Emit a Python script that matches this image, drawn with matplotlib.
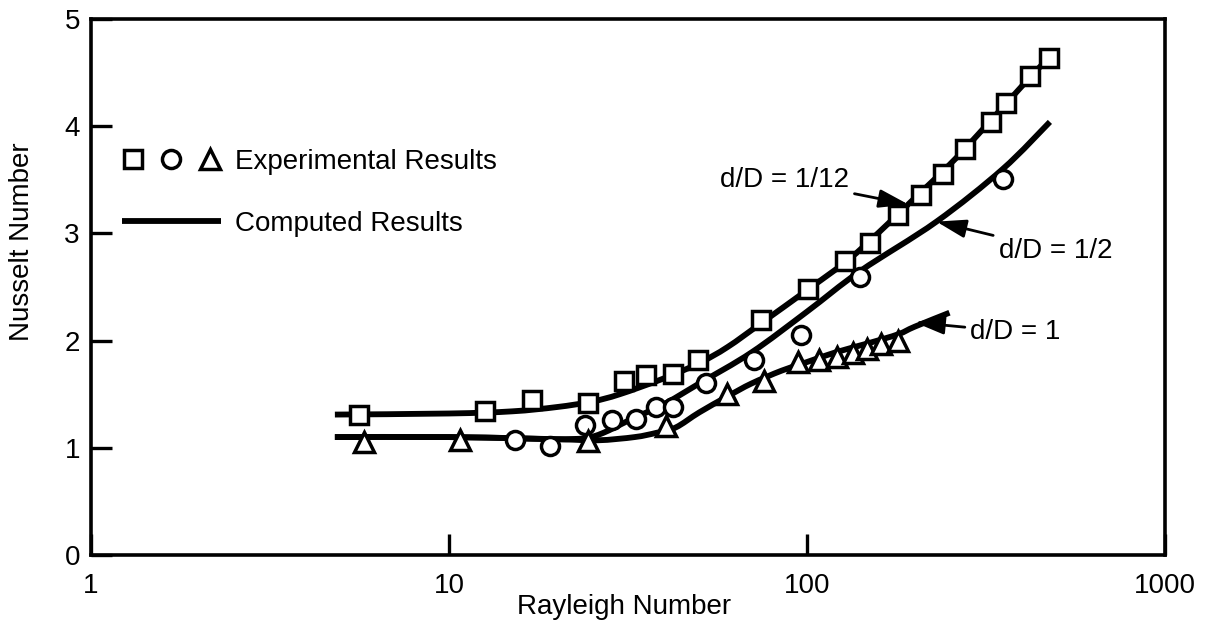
import numpy as np
import matplotlib
matplotlib.use("Agg")
import matplotlib.pyplot as plt
from matplotlib.legend_handler import HandlerTuple
from matplotlib.path import Path
from matplotlib.patches import PathPatch

plt.rcParams['font.family'] = ['Liberation Sans', 'DejaVu Sans']

# Experimental results: d/D = 1/12 (squares), 1/2 (circles), 1 (triangles)
ra_sq = [5.6, 12.6, 17.1, 24.4, 30.9, 35.6, 42.2, 49.5, 74.3, 100.7, 127.7,
         149.6, 180, 208, 240, 276, 326, 360, 419, 475]
nu_sq = [1.31, 1.34, 1.45, 1.42, 1.62, 1.68, 1.69, 1.82, 2.19, 2.48, 2.74,
         2.91, 3.17, 3.36, 3.55, 3.79, 4.04, 4.22, 4.47, 4.64]

ra_ci = [15.3, 19.2, 24.0, 28.6, 33.2, 37.8, 42.2, 52.1, 71, 96, 141, 352]
nu_ci = [1.07, 1.02, 1.21, 1.26, 1.27, 1.38, 1.38, 1.60, 1.82, 2.05, 2.59, 3.51]

ra_tr = [5.8, 10.7, 24.4, 40.3, 59.7, 75.9, 94.4, 108, 121, 134, 147, 161, 180]
nu_tr = [1.05, 1.07, 1.06, 1.20, 1.50, 1.62, 1.80, 1.82, 1.85, 1.88, 1.92,
         1.97, 2.00]

# Computed results
ra_c12 = [4.8, 10, 15, 20, 25, 30, 40, 50, 60, 75, 100, 130, 160, 200, 250,
          300, 400, 480]
nu_c12 = [1.31, 1.32, 1.34, 1.38, 1.43, 1.50, 1.65, 1.79, 1.94, 2.17, 2.47,
          2.75, 3.02, 3.33, 3.64, 3.92, 4.38, 4.66]

ra_c2 = [4.8, 10, 15, 20, 24, 27, 32, 40, 50, 70, 100, 141, 230, 352, 477]
nu_c2 = [1.10, 1.10, 1.09, 1.08, 1.09, 1.14, 1.26, 1.41, 1.60, 1.89, 2.27,
         2.65, 3.11, 3.60, 4.04]

ra_c1 = [4.8, 10, 20, 26, 33, 38, 43, 50, 60, 70, 85, 100, 120, 150, 180,
         200, 250]
nu_c1 = [1.10, 1.10, 1.08, 1.07, 1.10, 1.14, 1.19, 1.33, 1.48, 1.60, 1.72,
         1.80, 1.89, 1.98, 2.06, 2.13, 2.26]

x_ticks = [1, 10, 100, 1000]
x_tick_labels = ['1', '10', '100', '1000']
y_ticks = [0, 1, 2, 3, 4, 5]

FS = 20


def smooth_curve(ax, xs, ys, **kw):
    """Draw a Catmull-Rom style Bezier path through (xs, ys) on a log-x axis."""
    lx = np.log10(np.asarray(xs, float))
    y = np.asarray(ys, float)
    pts = np.column_stack([lx, y])
    n = len(pts)
    verts = [pts[0]]
    codes = [Path.MOVETO]
    for i in range(n - 1):
        p0 = pts[i - 1] if i > 0 else pts[i]
        p1 = pts[i]
        p2 = pts[i + 1]
        p3 = pts[i + 2] if i + 2 < n else pts[i + 1]
        c1 = p1 + (p2 - p0) / 6.0
        c2 = p2 - (p3 - p1) / 6.0
        verts += [c1, c2, p2]
        codes += [Path.CURVE4] * 3
    verts = np.array(verts)
    verts[:, 0] = 10 ** verts[:, 0]
    patch = PathPatch(Path(verts, codes), fill=False, **kw)
    ax.add_patch(patch)
    return patch


fig = plt.figure(figsize=(12.07, 6.20), dpi=100)
ax = fig.add_axes([91 / 1207, 1 - 555 / 620, (1165 - 91) / 1207, (555 - 19) / 620])
ax.set_xscale('log')
ax.set_xlim(1, 1000)
ax.set_ylim(0, 5)

line_kw = dict(edgecolor='black', lw=4.2, capstyle='butt', zorder=2)
smooth_curve(ax, ra_c12, nu_c12, **line_kw)
smooth_curve(ax, ra_c2, nu_c2, **line_kw)
smooth_curve(ax, ra_c1, nu_c1, **line_kw)
comp, = ax.plot([], [], color='black', lw=4.2, solid_capstyle='butt')

mk_kw = dict(linestyle='none', markerfacecolor='white', markeredgecolor='black',
             markeredgewidth=2.5, zorder=3)
sq, = ax.plot(ra_sq, nu_sq, marker='s', markersize=12.5, **mk_kw)
ci, = ax.plot(ra_ci, nu_ci, marker='o', markersize=13, **mk_kw)
tr, = ax.plot(ra_tr, nu_tr, marker='^', markersize=14, **mk_kw)

ax.set_xticks(x_ticks)
ax.set_xticklabels(x_tick_labels)
ax.xaxis.set_minor_locator(matplotlib.ticker.NullLocator())
ax.set_yticks(y_ticks)
ax.tick_params(axis='both', direction='in', length=15, width=2.4,
               labelsize=FS, top=False, right=False)
ax.tick_params(axis='y', pad=8)
ax.tick_params(axis='x', pad=13)
for sp in ax.spines.values():
    sp.set_linewidth(2.6)

ax.set_xlabel('Rayleigh Number', fontsize=FS)
ax.set_ylabel('Nusselt Number', fontsize=FS)
ax.xaxis.set_label_coords(0.496, -0.072)
ax.yaxis.set_label_coords(-0.052, 0.585)

arrow = dict(arrowstyle='-|>,head_length=0.9,head_width=0.28', color='black',
             lw=2.0, shrinkA=2, shrinkB=0)
ax.annotate('d/D = 1/12', xy=(192, 3.27), xytext=(131, 3.50), ha='right',
            va='center', fontsize=FS, arrowprops=arrow)
ax.annotate('d/D = 1/2', xy=(230, 3.11), xytext=(343, 2.84), ha='left',
            va='center', fontsize=FS, arrowprops=arrow)
ax.annotate('d/D = 1', xy=(200, 2.17), xytext=(286, 2.08), ha='left',
            va='center', fontsize=FS, arrowprops=arrow)

ax.legend([(sq, ci, tr), comp], ['Experimental Results', 'Computed Results'],
          handler_map={tuple: HandlerTuple(ndivide=None, pad=0.6)},
          loc='center left', bbox_to_anchor=(0.029, 0.6755), frameon=False,
          fontsize=FS, handlelength=3.55, handletextpad=0.5, labelspacing=1.3,
          borderpad=0, borderaxespad=0)

fig.savefig('out.png', dpi=100)
